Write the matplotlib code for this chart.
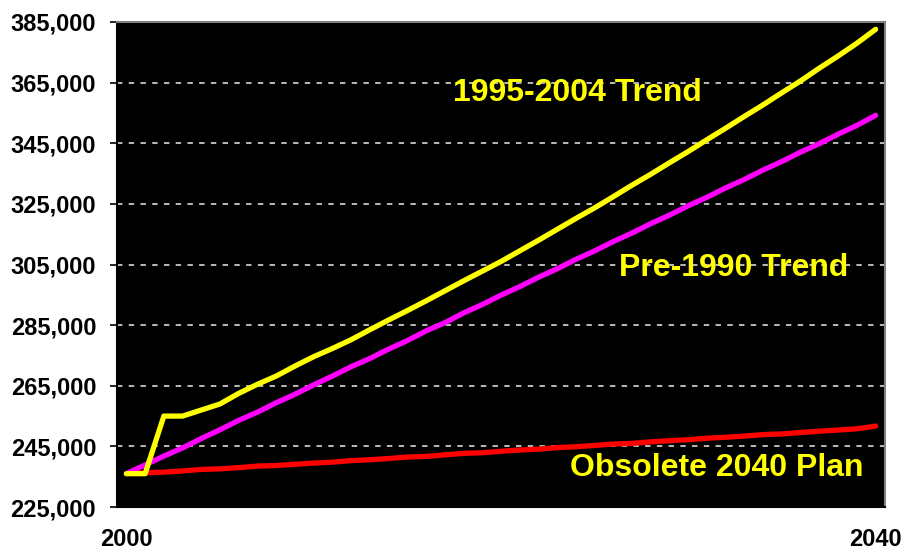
import numpy as np
import matplotlib
matplotlib.use("Agg")
import matplotlib.pyplot as plt
from matplotlib.ticker import FuncFormatter

plt.rcParams['font.family'] = ['Liberation Sans', 'DejaVu Sans']
plt.rcParams['font.weight'] = 'bold'

years = list(range(2000, 2041))

trend_1995_2004 = [236000, 236000, 255000, 255000, 257000, 259000, 262500, 265500,
                   268200, 271500, 274600, 277300, 280200, 283500, 286700, 289800,
                   293000, 296300, 299600, 302800, 306000, 309500, 313000, 316600,
                   320200, 323700, 327400, 331200, 334800, 338600, 342300, 346200,
                   350000, 353900, 357700, 361700, 365600, 369800, 373800, 378000,
                   382600]

trend_pre_1990 = [236000, 238900, 241800, 244500, 247600, 250500, 253600, 256300,
                  259400, 262200, 265300, 268200, 271300, 274000, 277100, 279900,
                  283100, 285800, 289000, 291800, 294900, 297700, 300800, 303600,
                  306700, 309500, 312600, 315400, 318500, 321300, 324400, 327200,
                  330300, 333100, 336200, 339000, 342100, 344900, 348000, 350900,
                  354200]

plan_2040 = [236000, 236300, 236500, 236900, 237400, 237600, 238000, 238500,
             238700, 239100, 239500, 239800, 240300, 240600, 241000, 241500,
             241700, 242200, 242700, 242900, 243400, 243800, 244100, 244600,
             244900, 245300, 245800, 246000, 246500, 246900, 247200, 247700,
             248000, 248400, 248900, 249100, 249600, 250000, 250400, 250800,
             251700]

y_ticks = list(range(225000, 385001, 20000))

fig = plt.figure(figsize=(9.03, 5.54), dpi=100)
ax = fig.add_axes([0.1296, 0.0848, 0.8505, 0.8755])
ax.set_facecolor('black')

x = np.arange(len(years))
ax.plot(x, plan_2040, color='#ff0000', lw=3.8, solid_capstyle='round', zorder=3)
ax.plot(x, trend_pre_1990, color='#ff00ff', lw=3.8, solid_capstyle='round', zorder=4)
ax.plot(x, trend_1995_2004, color='#ffff00', lw=3.8, solid_capstyle='round', zorder=5)

ax.set_xlim(-0.5, len(years) - 0.5)
ax.set_ylim(225000, 385000)
ax.set_yticks(y_ticks)
ax.yaxis.set_major_formatter(FuncFormatter(lambda v, p: f"{int(v):,}"))
ax.set_xticks([0, len(years) - 1])
ax.set_xticklabels([str(years[0]), str(years[-1])])

ax.grid(axis='y', color='#c8c8c8', linestyle=(0, (3, 3.5)), linewidth=1.3, zorder=1)
ax.tick_params(axis='y', length=5, width=1.2, pad=10, labelsize=17)
ax.tick_params(axis='x', length=0, pad=15, labelsize=17)

for side in ['top', 'right']:
    ax.spines[side].set_color('#808080')
    ax.spines[side].set_linewidth(1.5)
for side in ['left', 'bottom']:
    ax.spines[side].set_color('black')
    ax.spines[side].set_linewidth(1.5)

txt = dict(color='#ffff00', fontsize=23, fontweight='bold', ha='center', va='center',
           transform=ax.transAxes, zorder=6)
ax.text(0.600, 0.854, '1995-2004 Trend', **txt)
ax.text(0.803, 0.493, 'Pre-1990 Trend', **txt)
ax.text(0.781, 0.080, 'Obsolete 2040 Plan', **txt)

fig.savefig('out.png', dpi=100, facecolor='white')
